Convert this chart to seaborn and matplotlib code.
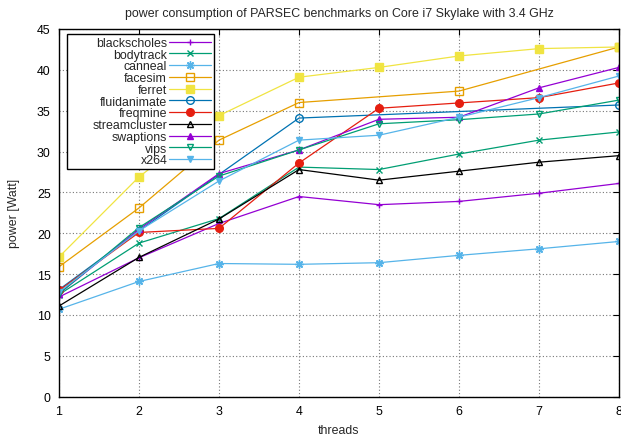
import numpy as np
import pandas as pd
import matplotlib
matplotlib.use("Agg")
import matplotlib.pyplot as plt
from matplotlib.offsetbox import DrawingArea
import seaborn as sns

threads = [1, 2, 3, 4, 5, 6, 7, 8]
nan = np.nan
blackscholes = [12.2, 17.0, 21.2, 24.5, 23.5, 23.9, 24.9, 26.1]
bodytrack = [12.5, 18.8, 21.8, 28.1, 27.8, 29.7, 31.4, 32.4]
canneal = [10.7, 14.1, 16.3, 16.2, 16.4, 17.3, 18.1, 19.0]
facesim = [15.9, 23.1, 31.4, 36.0, nan, 37.4, nan, 42.8]
ferret = [17.1, 26.9, 34.4, 39.1, 40.3, 41.7, 42.6, 42.8]
fluidanimate = [13.1, 20.3, nan, 34.1, nan, nan, nan, 35.7]
freqmine = [13.0, 20.1, 20.6, 28.6, 35.3, 35.95, 36.6, 38.4]
streamcluster = [11.1, 17.05, 21.75, 27.8, 26.5, 27.6, 28.7, 29.5]
swaptions = [12.6, 20.5, 27.3, 30.2, 33.95, 34.2, 37.8, 40.3]
vips = [12.6, 20.7, 27.0, 30.2, 33.4, 33.9, 34.6, 36.3]
x264 = [12.8, 20.3, 26.4, 31.4, 32.0, 34.2, 36.6, 39.25]

names = ["blackscholes", "bodytrack", "canneal", "facesim", "ferret",
         "fluidanimate", "freqmine", "streamcluster", "swaptions", "vips", "x264"]
series = [blackscholes, bodytrack, canneal, facesim, ferret, fluidanimate,
          freqmine, streamcluster, swaptions, vips, x264]
colors = ["#9400d3", "#009e73", "#56b4e9", "#e69f00", "#f0e442", "#0072b2",
          "#e51e10", "#000000", "#9400d3", "#009e73", "#56b4e9"]
markers = ["+", "x", (8, 2, 0), "s", "s", "o", "o", "^", "^", "v", "v"]
filled = [True, True, True, False, True, False, True, False, True, False, True]

sns.set_theme(style="white")
plt.rcParams["font.family"] = ["Liberation Sans", "DejaVu Sans"]
FS = 8.9

fig = plt.figure(figsize=(6.21, 4.39), dpi=100)
ax = fig.add_axes([59 / 621, 1 - 397.7 / 439, 560 / 621, 367.7 / 439])

for name, vals, c, m, f in zip(names, series, colors, markers, filled):
    df = pd.DataFrame({"threads": threads, "power": vals}).dropna()
    kw = dict(marker=m, markersize=5, color=c, linewidth=0.9, label=name,
              markeredgecolor=c, markeredgewidth=1.0)
    kw["markerfacecolor"] = c if f else "none"
    if m in ("s", "o"):
        kw["markersize"] = 5.5
    if isinstance(m, tuple):
        kw["markersize"] = 6
    sns.lineplot(data=df, x="threads", y="power", ax=ax, **kw)

ax.set_xlim(1, 8)
ax.set_ylim(0, 45)
ax.set_xticks(threads)
ax.set_yticks(np.arange(0, 46, 5))
ax.grid(True, color="#777777", linestyle=(0, (1, 2)), linewidth=0.8)
for s in ax.spines.values():
    s.set_color("black")
    s.set_linewidth(1.0)
ax.tick_params(direction="in", length=4, width=0.8, top=True, right=True,
               labelsize=FS, colors="black", pad=6)
ax.set_xlabel("threads", fontsize=FS, labelpad=5)
ax.set_ylabel("power [Watt]", fontsize=FS, labelpad=12)
ax.set_title("power consumption of PARSEC benchmarks on Core i7 Skylake with 3.4 GHz",
             fontsize=FS, pad=9)

leg = ax.legend(loc="upper left", bbox_to_anchor=(0.0135, 0.986), markerfirst=False,
                fontsize=FS, frameon=True, fancybox=False, edgecolor="black",
                framealpha=1, handlelength=3.4, labelspacing=-0.02, borderpad=0.22,
                handletextpad=0.15, borderaxespad=0, numpoints=1, columnspacing=0.4)
leg.get_frame().set_linewidth(1.0)
try:
    for col in leg._legend_handle_box._children:
        col.align = "right"
    leg._legend_handle_box._children.insert(0, DrawingArea(13, 1))
except Exception:
    pass

fig.savefig("out.png", dpi=100)
